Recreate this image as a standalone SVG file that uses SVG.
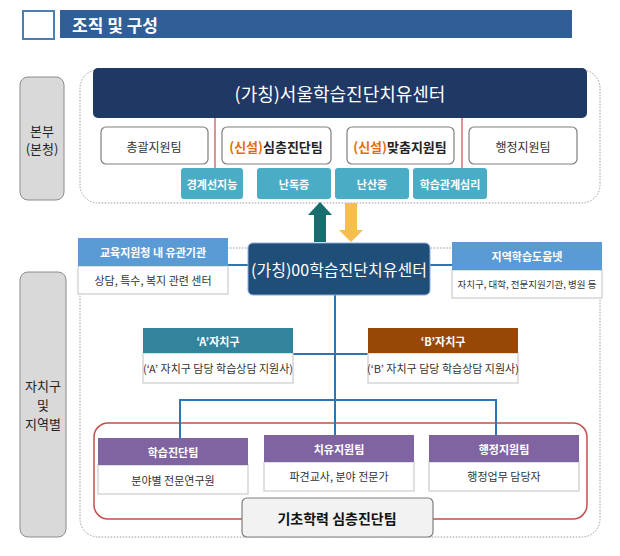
<svg xmlns="http://www.w3.org/2000/svg" width="620" height="556" viewBox="0 0 620 556">
<style>
text{font-family:"Noto Sans CJK KR","Noto Sans",sans-serif;text-anchor:middle;dominant-baseline:central}
.wb{fill:#fff;stroke:#7f7f7f;stroke-width:1.2}
.tab{fill:#4bacc6}
.hd{fill:#5b9bd5}
.pu{fill:#8064a2}
.wt{fill:#fff;font-size:11px;font-weight:bold}
.bt{fill:#333;font-size:11px}
.ln{stroke:#2e75b6;stroke-width:2;fill:none}
.dot{fill:none;stroke:#999;stroke-width:1;stroke-dasharray:1.5 1.5}
</style>
<rect width="620" height="556" fill="#fff"/>
<g id="title">
<rect x="23" y="11" width="31" height="28" fill="#fff" stroke="#4a7fb0" stroke-width="2"/>
<rect x="60" y="10" width="512" height="28" fill="#2f5f96"/>
<text x="72" y="24" style="text-anchor:start;font-size:17px;font-weight:bold;fill:#fff">조직 및 구성</text>
</g>
<g id="regions">
<rect x="80" y="70" width="520" height="133" rx="18" class="dot"/>
<rect x="80" y="248" width="520" height="289" rx="18" class="dot"/>
<rect x="94" y="423" width="493" height="96" rx="14" fill="none" stroke="#c0504d" stroke-width="1.5"/>
</g>
<g id="lbl-hq"><rect x="20" y="77" width="44" height="123" rx="8" fill="#d9d9d9" stroke="#8c8c8c"/>
<text x="42" y="130" style="font-size:13px;fill:#222">본부</text><text x="42" y="148" style="font-size:13px;fill:#222">(본청)</text></g>
<g id="lbl-local"><rect x="20" y="272" width="46" height="265" rx="8" fill="#d9d9d9" stroke="#8c8c8c"/>
<text x="43" y="385" style="font-size:13px;fill:#222">자치구</text><text x="43" y="404" style="font-size:13px;fill:#222">및</text><text x="43" y="423" style="font-size:13px;fill:#222">지역별</text></g>
<g id="connectors">
<line x1="215" y1="118" x2="215" y2="168" stroke="#c0504d" stroke-width="1.2"/>
<line x1="462" y1="118" x2="462" y2="168" stroke="#c0504d" stroke-width="1.2"/>
<path d="M228 265H248M430 265H452" class="ln"/>
<path d="M335 295V437M290 354H368M180 438V400H496V438" class="ln"/>
<path d="M314 242V215H308L320 202L332 215H326V242Z" fill="#176e6e"/>
<path d="M345 203V230H339L351 242L363 230H357V203Z" fill="#f6bd4f"/>
</g>
<g id="hq"><rect x="93" y="68" width="494" height="50" rx="5" fill="#1f3864"/>
<text x="340" y="93" style="fill:#fff;font-size:18px">(가칭)서울학습진단치유센터</text></g>
<g id="t1"><rect x="101" y="127" width="107" height="37" rx="5" class="wb"/><text x="154" y="146" class="bt" style="font-size:12px">총괄지원팀</text></g>
<g id="t2"><rect x="222" y="127" width="109" height="37" rx="5" class="wb"/><text x="276" y="146" style="font-size:13px;font-weight:bold;fill:#222"><tspan fill="#e36c09">(신설)</tspan>심층진단팀</text></g>
<g id="t3"><rect x="347" y="127" width="107" height="37" rx="5" class="wb"/><text x="400" y="146" style="font-size:13px;font-weight:bold;fill:#222"><tspan fill="#e36c09">(신설)</tspan>맞춤지원팀</text></g>
<g id="t4"><rect x="469" y="127" width="108" height="37" rx="5" class="wb"/><text x="523" y="146" class="bt" style="font-size:12px">행정지원팀</text></g>
<g id="tab1"><rect x="181" y="168" width="62" height="31" rx="3" class="tab"/><text x="212" y="184" class="wt">경계선지능</text></g>
<g id="tab2"><rect x="257" y="168" width="74" height="31" rx="3" class="tab"/><text x="294" y="184" class="wt">난독증</text></g>
<g id="tab3"><rect x="335" y="168" width="74" height="31" rx="3" class="tab"/><text x="372" y="184" class="wt">난산증</text></g>
<g id="tab4"><rect x="413" y="168" width="74" height="31" rx="3" class="tab"/><text x="450" y="184" class="wt">학습관계심리</text></g>
<g id="edu"><rect x="78" y="266" width="150" height="28" class="wb" style="stroke:#ccc"/><rect x="78" y="238" width="150" height="28" class="hd"/>
<text x="153" y="252" class="wt">교육지원청 내 유관기관</text><text x="153" y="280" class="bt">상담, 특수, 복지 관련 센터</text></g>
<g id="center"><rect x="248" y="243" width="182" height="52" rx="5" fill="#1f4e79" stroke="#8eaadb"/>
<text x="339" y="269" style="fill:#fff;font-size:16px">(가칭)00학습진단치유센터</text></g>
<g id="net"><rect x="452" y="270" width="150" height="28" class="wb" style="stroke:#ccc"/><rect x="452" y="242" width="150" height="28" class="hd"/>
<text x="527" y="256" class="wt">지역학습도움넷</text><text x="527" y="284" class="bt" style="font-size:9.5px">자치구, 대학, 전문지원기관, 병원 등</text></g>
<g id="a"><rect x="143" y="353" width="150" height="30" class="wb" style="stroke:#ccc"/><rect x="143" y="328" width="150" height="25" fill="#31849b"/>
<text x="218" y="341" class="wt">‘A’자치구</text><text x="218" y="368" class="bt">(‘A’ 자치구 담당 학습상담 지원사)</text></g>
<g id="b"><rect x="368" y="353" width="150" height="30" class="wb" style="stroke:#ccc"/><rect x="368" y="328" width="150" height="25" fill="#974806"/>
<text x="443" y="341" class="wt">‘B’자치구</text><text x="443" y="368" class="bt">(‘B’ 자치구 담당 학습상담 지원사)</text></g>
<g id="p1"><rect x="98" y="465" width="150" height="29" class="wb" style="stroke:#ccc"/><rect x="98" y="438" width="150" height="27" class="pu"/>
<text x="173" y="452" class="wt">학습진단팀</text><text x="173" y="480" class="bt">분야별 전문연구원</text></g>
<g id="p2"><rect x="264" y="462" width="150" height="29" class="wb" style="stroke:#ccc"/><rect x="264" y="435" width="150" height="27" class="pu"/>
<text x="339" y="449" class="wt">치유지원팀</text><text x="339" y="476" class="bt">파견교사, 분야 전문가</text></g>
<g id="p3"><rect x="429" y="462" width="150" height="29" class="wb" style="stroke:#ccc"/><rect x="429" y="435" width="150" height="27" class="pu"/>
<text x="504" y="449" class="wt">행정지원팀</text><text x="504" y="476" class="bt">행정업무 담당자</text></g>
<g id="basic"><rect x="242" y="498" width="191" height="39" rx="5" fill="#f2f2f2" stroke="#7f7f7f" stroke-width="1.2"/>
<text x="337" y="518" style="font-size:14px;font-weight:bold;fill:#111">기초학력 심층진단팀</text></g>
</svg>
